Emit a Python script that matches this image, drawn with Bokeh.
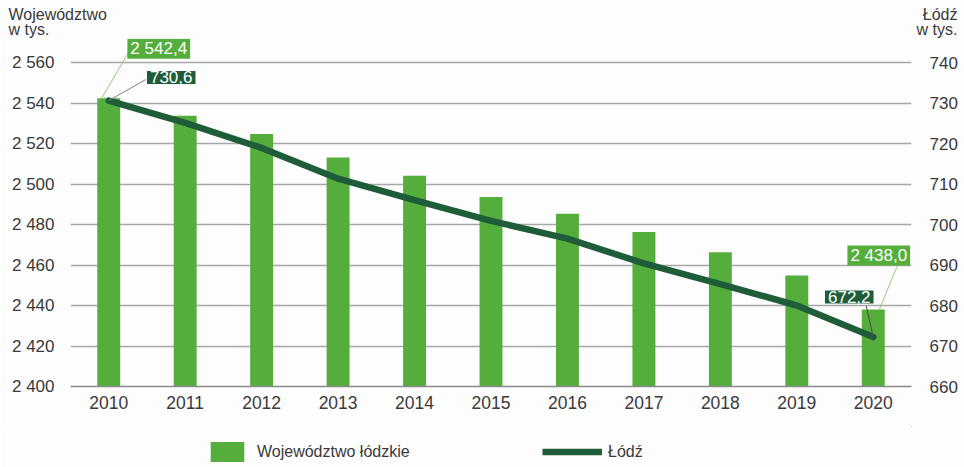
from bokeh.plotting import figure
from bokeh.layouts import column
from bokeh.models import Range1d, LinearAxis, FixedTicker, Label, Legend, LegendItem
from bokeh.embed import file_html
from bokeh.resources import INLINE

# ---- data ----
years = [2010, 2011, 2012, 2013, 2014, 2015, 2016, 2017, 2018, 2019, 2020]
wojewodztwo = [2542.4, 2533.7, 2524.7, 2513.1, 2504.1, 2493.6, 2485.3, 2476.3, 2466.3, 2454.8, 2438.0]
lodz = [730.6, 725.1, 718.9, 711.3, 706.0, 700.9, 696.5, 690.4, 685.3, 680.0, 672.2]
left_ticks = [2400, 2420, 2440, 2460, 2480, 2500, 2520, 2540, 2560]
left_tick_labels = ["2 400", "2 420", "2 440", "2 460", "2 480", "2 500", "2 520", "2 540", "2 560"]
right_ticks = [660, 670, 680, 690, 700, 710, 720, 730, 740]
right_tick_labels = ["660", "670", "680", "690", "700", "710", "720", "730", "740"]
first_woj_label = "2 542,4"
last_woj_label = "2 438,0"
first_lodz_label = "730,6"
last_lodz_label = "672,2"
left_title = ["Województwo", "w tys."]
right_title = ["Łódź", "w tys."]
legend_labels = ["Województwo łódzkie", "Łódź"]

# ---- style ----
LIGHT = "#55ae3c"
DARK = "#1f5d3a"
TXT = "#3a3a3a"
GRID = "#a8a8a8"
FONT = "Liberation Sans"
BG = "#fdfdfd"

W = 964
HEAD_H, MAIN_H, FOOT_H = 38, 388, 41
ML, MR, MB = 70, 53, 40
FW = W - ML - MR
FH = MAIN_H - MB
PX_X = FW / 11.0
PX_L = 324.0 / 160.0
PX_R = 324.0 / 80.0
y_end_left = left_ticks[0] + FH / PX_L
y_end_right = right_ticks[0] + FH / PX_R


def blank(h, left, right):
    f = figure(width=W, height=h, output_backend="svg", toolbar_location=None,
               x_range=Range1d(0, 1), y_range=Range1d(0, 1),
               x_axis_type=None, y_axis_type=None,
               min_border_left=left, min_border_right=right,
               min_border_top=0, min_border_bottom=0)
    f.background_fill_color = BG
    f.border_fill_color = BG
    f.outline_line_color = None
    f.xgrid.visible = False
    f.ygrid.visible = False
    return f


# ---- header with axis titles ----
head = blank(HEAD_H, 0, 0)
can_unalign = "frame_align" in head.properties()
if can_unalign:
    head.frame_align = False
hx0 = 0 if can_unalign else ML
for i, (lt, rt) in enumerate(zip(left_title, right_title)):
    y = HEAD_H - 5 - i * 15
    head.add_layout(Label(x=8 - hx0, y=y, x_units="screen", y_units="screen", text=lt,
                          text_align="left", text_baseline="top", text_font=FONT,
                          text_font_size="16px", text_color=TXT))
    head.add_layout(Label(x=957 - hx0, y=y, x_units="screen", y_units="screen", text=rt,
                          text_align="right", text_baseline="top", text_font=FONT,
                          text_font_size="16px", text_color=TXT))

# ---- main chart ----
p = figure(width=W, height=MAIN_H, output_backend="svg", toolbar_location=None,
           x_range=Range1d(years[0] - 0.5, years[-1] + 0.5),
           y_range=Range1d(left_ticks[0], y_end_left),
           min_border_left=ML, min_border_right=MR, min_border_top=0, min_border_bottom=MB)
p.extra_y_ranges = {"lodz": Range1d(right_ticks[0], y_end_right)}
p.background_fill_color = BG
p.border_fill_color = BG
p.outline_line_color = None

p.xgrid.visible = False
p.ygrid.ticker = FixedTicker(ticks=left_ticks)
p.ygrid.grid_line_color = GRID
p.ygrid.grid_line_width = 1.3

p.vbar(x=years, top=wojewodztwo, bottom=left_ticks[0], width=0.3,
       fill_color=LIGHT, line_color=None)
p.line(x=years, y=lodz, y_range_name="lodz", line_color=DARK, line_width=6.5,
       line_join="round", line_cap="round")

ax = p.xaxis[0]
ax.ticker = FixedTicker(ticks=years)
ax.axis_line_color = "#8a8a8a"
ax.axis_line_width = 1.5
ax.major_tick_line_color = None
ax.minor_tick_line_color = None
ax.major_tick_out = 0
ax.major_tick_in = 0
ax.major_label_standoff = 9
ax.major_label_text_font = FONT
ax.major_label_text_font_size = "17.5px"
ax.major_label_text_color = TXT

ay = p.yaxis[0]
ay.ticker = FixedTicker(ticks=left_ticks)
ay.major_label_overrides = {t: s for t, s in zip(left_ticks, left_tick_labels)}
ay.axis_line_color = None
ay.major_tick_line_color = None
ay.minor_tick_line_color = None
ay.major_tick_out = 0
ay.major_tick_in = 0
ay.major_label_standoff = 16
ay.major_label_text_font = FONT
ay.major_label_text_font_size = "17px"
ay.major_label_text_color = TXT

ar = LinearAxis(y_range_name="lodz", ticker=FixedTicker(ticks=right_ticks))
ar.major_label_overrides = {t: s for t, s in zip(right_ticks, right_tick_labels)}
ar.axis_line_color = None
ar.major_tick_line_color = None
ar.minor_tick_line_color = None
ar.major_tick_out = 0
ar.major_tick_in = 0
ar.major_label_standoff = 18
ar.major_label_text_font = FONT
ar.major_label_text_font_size = "17px"
ar.major_label_text_color = TXT
p.add_layout(ar, "right")


def leader(x, y, dx0, dx1, dy1, px_y, color, rng=None):
    kw = {"y_range_name": rng} if rng else {}
    p.segment(x0=[x + dx0 / PX_X], y0=[y], x1=[x + dx1 / PX_X], y1=[y + dy1 / px_y],
              line_color=color, line_width=1, **kw)


leader(years[0], wojewodztwo[0], -7, 20, 46, PX_L, "#8fcc7c")
leader(years[0], lodz[0], 0, 37, 21, PX_R, "#7d7d7d", "lodz")
leader(years[-1], wojewodztwo[-1], 6, 25, 46, PX_L, "#8fcc7c")
leader(years[-1], lodz[-1], 0, -7, 31, PX_R, "#4a4a4a", "lodz")


def box(x, y, text, dx, dy, color, rng=None):
    kw = {"y_range_name": rng} if rng else {}
    p.add_layout(Label(x=x, y=y, text=text, x_offset=dx, y_offset=dy,
                       text_align="center", text_baseline="middle",
                       text_font=FONT, text_font_size="17px", text_color="white",
                       background_fill_color=color,
                       padding=dict(left=3, right=3, top=0, bottom=1), **kw))


box(years[0], wojewodztwo[0], first_woj_label, 50, 49.5, LIGHT)
box(years[0], lodz[0], first_lodz_label, 62.5, 23, DARK, "lodz")
box(years[-1], wojewodztwo[-1], last_woj_label, 5.5, 54, LIGHT)
box(years[-1], lodz[-1], last_lodz_label, -24, 40, DARK, "lodz")

# ---- footer with legend (its glyphs reuse the data, kept outside the footer's view) ----
foot = blank(FOOT_H, ML, MR)
lg_bar = foot.vbar(x=years, top=wojewodztwo, bottom=wojewodztwo, width=0.3,
                   fill_color=LIGHT, line_color=None)
lg_line = foot.line(x=years, y=lodz, line_color=DARK, line_width=6.5)
common = dict(padding=0, margin=0, border_line_alpha=0, background_fill_alpha=0,
              label_text_font=FONT, label_text_color=TXT, label_text_font_size="16px")
leg1 = Legend(items=[LegendItem(label=legend_labels[0], renderers=[lg_bar])],
              location=(206 - ML, 3), glyph_width=42, glyph_height=25, label_standoff=9, **common)
leg2 = Legend(items=[LegendItem(label=legend_labels[1], renderers=[lg_line])],
              location=(542 - ML, 3), glyph_width=60, glyph_height=25, label_standoff=6, **common)
foot.add_layout(leg1)
foot.add_layout(leg2)

layout = column(head, p, foot, spacing=0)
open("out.html", "w").write(file_html(layout, INLINE))
